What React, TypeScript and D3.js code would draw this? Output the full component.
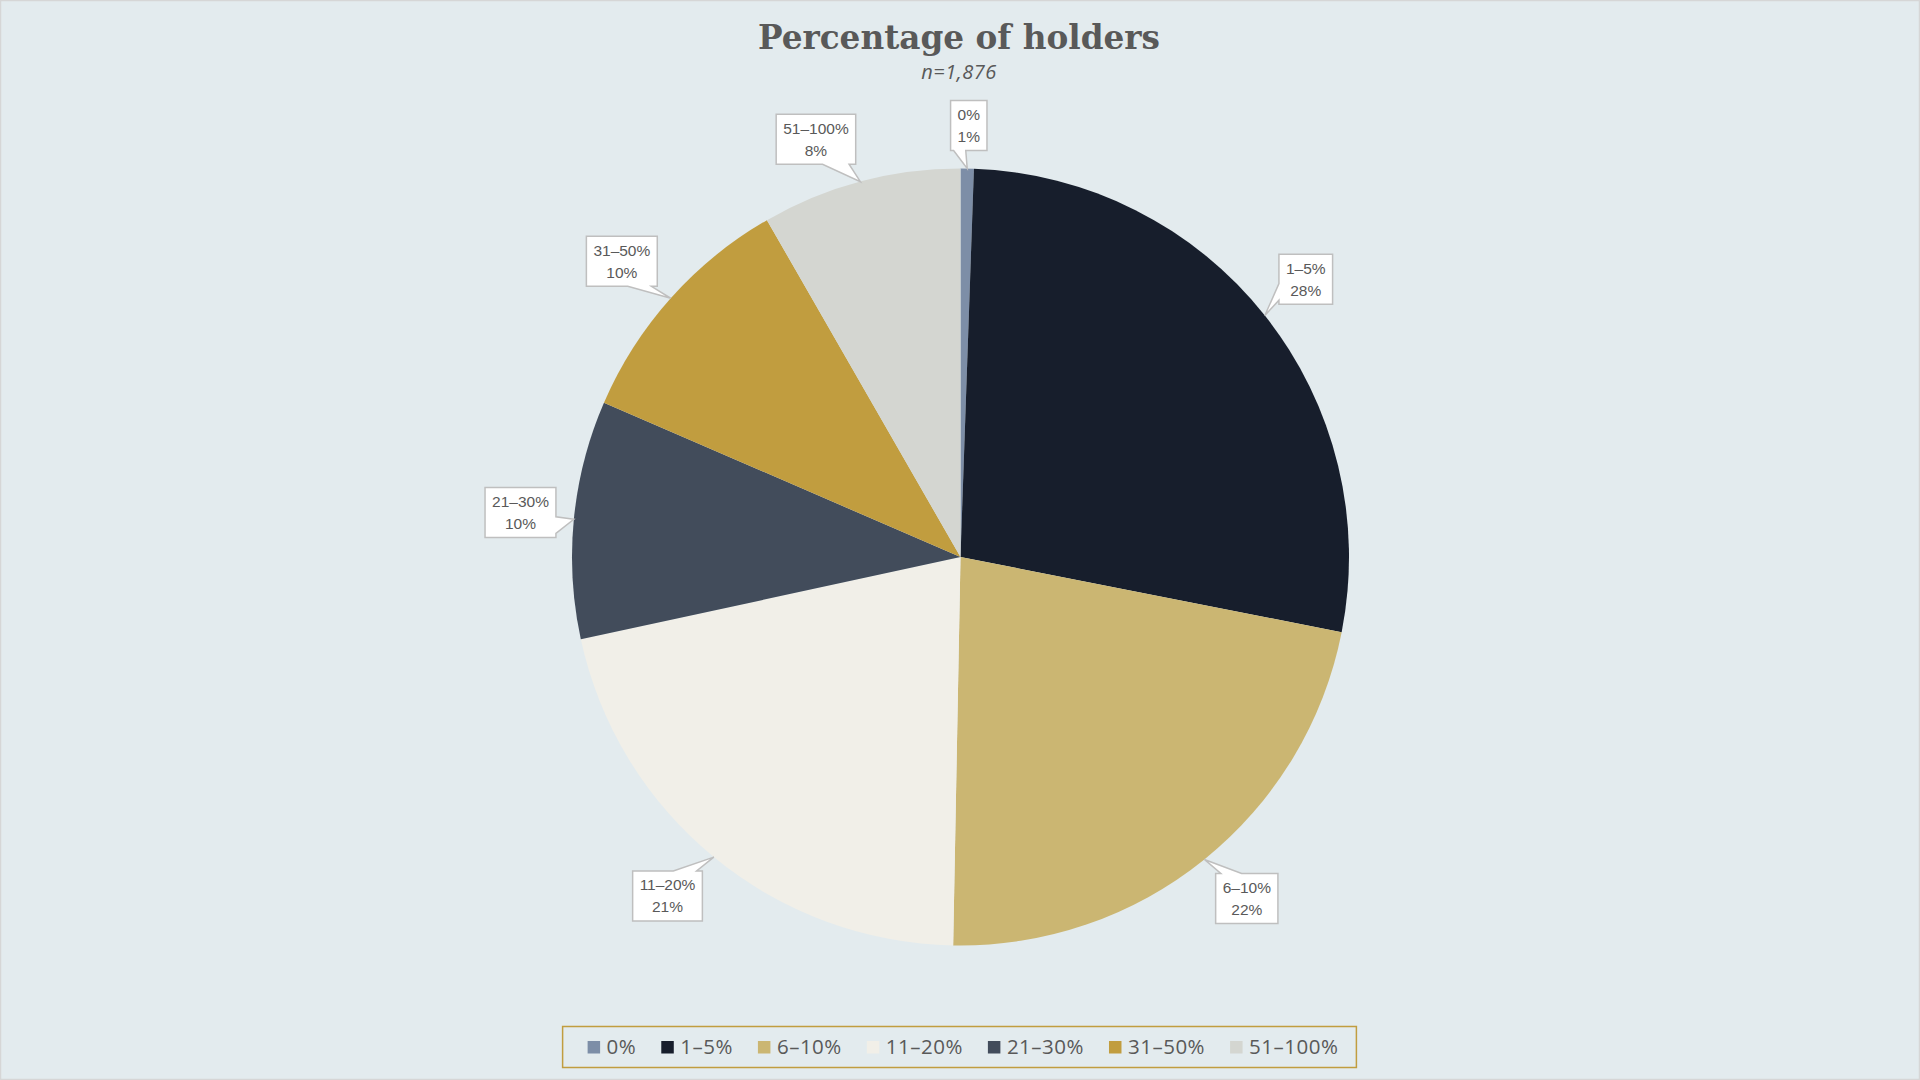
import { useEffect, useRef } from 'react';
import * as d3 from 'd3';

interface Slice {
  name: string;
  value: number;
  color: string;
}

// Kategori dan nilai (perkiraan dari gambar)
const categories = ['0%', '1–5%', '6–10%', '11–20%', '21–30%', '31–50%', '51–100%'];
const shares = [0.55, 27.55, 22.2, 21.3, 9.9, 10.2, 8.3];
const colors = ['#7d8ea7', '#171e2c', '#cbb672', '#f1efe8', '#424c5b', '#c19d3f', '#d4d6d1'];

const title = 'Percentage of holders';
const subtitle = 'n=1,876';

const width = 1920;
const height = 1080;

export default function App() {
  const svgRef = useRef<SVGSVGElement>(null);

  useEffect(() => {
    if (!svgRef.current) return;
    const svg = d3.select(svgRef.current);
    svg.selectAll('*').remove();

    const textColor = '#595959';
    const data: Slice[] = categories.map((name, i) => ({ name, value: shares[i], color: colors[i] }));
    const total = d3.sum(data, d => d.value);
    const pct = d3.format('.0%');

    // Latar belakang
    svg.append('rect')
      .attr('x', 0.5).attr('y', 0.5)
      .attr('width', width - 1).attr('height', height - 1)
      .attr('fill', '#e3ebee')
      .attr('stroke', '#d6d6d6')
      .attr('stroke-width', 1.5);

    // Judul
    svg.append('text')
      .attr('x', 959).attr('y', 48.5)
      .attr('text-anchor', 'middle')
      .attr('fill', textColor)
      .style('font-family', '"DejaVu Serif", serif')
      .style('font-weight', 'bold')
      .style('font-size', '32.7px')
      .text(title);

    svg.append('text')
      .attr('x', 959).attr('y', 78.5)
      .attr('text-anchor', 'middle')
      .attr('fill', textColor)
      .style('font-family', '"Open Sans", sans-serif')
      .style('font-style', 'italic')
      .style('font-size', '20px')
      .style('letter-spacing', '0.5px')
      .text(subtitle);

    // Pie
    const cx = 960.5;
    const cy = 557;
    const radius = 388.5;

    const pie = d3.pie<Slice>().value(d => d.value).sort(null);
    const arc = d3.arc<d3.PieArcDatum<Slice>>().innerRadius(0).outerRadius(radius);
    const arcs = pie(data);

    const g = svg.append('g').attr('transform', `translate(${cx}, ${cy})`);
    g.selectAll('path.slice')
      .data(arcs)
      .enter()
      .append('path')
      .attr('class', 'slice')
      .attr('d', d => arc(d) as string)
      .attr('fill', d => d.data.color);

    // Label callout
    const labels = g.selectAll('g.callout')
      .data(arcs)
      .enter()
      .append('g')
      .attr('class', 'callout');

    const anchorR = radius + 18;
    const clamp = (v: number) => Math.max(-1, Math.min(1, v));

    labels.each(function (d) {
      const lg = d3.select(this);
      const mid = (d.startAngle + d.endAngle) / 2;
      const ux = Math.sin(mid);
      const uy = -Math.cos(mid);
      const tip = [radius * ux, radius * uy];

      const path = lg.append('path')
        .attr('fill', '#ffffff')
        .attr('stroke', '#bfbfbf')
        .attr('stroke-width', 1.5);

      const lines = [d.data.name, pct(d.data.value / total)];
      const texts = lines.map(t => lg.append('text')
        .attr('text-anchor', 'middle')
        .attr('dy', '0.35em')
        .attr('fill', textColor)
        .style('font-family', '"Liberation Sans", Arial, sans-serif')
        .style('font-size', '15.5px')
        .text(t));
      const tw = d3.max(texts, t => (t.node() as SVGTextElement).getComputedTextLength()) || 0;

      const w = tw + 14;
      const h = 50;
      const hw = w / 2;
      const hh = h / 2;
      // titik jangkar di luar busur, kotak bergeser ke arah sudut
      const ax = anchorR * ux;
      const ay = anchorR * uy;
      const bx = ax + hw * clamp(ux / 0.25);
      const by = ay + hh * clamp(uy / 0.5);

      texts[0].attr('x', bx).attr('y', by - 11);
      texts[1].attr('x', bx).attr('y', by + 11);

      const x0 = bx - hw, x1 = bx + hw, y0 = by - hh, y1 = by + hh;
      const dxPos = tip[0] - bx;
      const dyPos = tip[1] - by;
      const dxN = dxPos * h / w;
      const p = d3.path();
      if (Math.abs(dyPos) > Math.abs(dxN)) {
        const b1 = dxPos < 0 ? x0 + w / 12 : x0 + 7 * w / 12;
        const b2 = dxPos < 0 ? x0 + 5 * w / 12 : x0 + 11 * w / 12;
        if (dyPos < 0) {
          p.moveTo(x0, y0); p.lineTo(b1, y0); p.lineTo(tip[0], tip[1]); p.lineTo(b2, y0);
          p.lineTo(x1, y0); p.lineTo(x1, y1); p.lineTo(x0, y1);
        } else {
          p.moveTo(x0, y0); p.lineTo(x1, y0); p.lineTo(x1, y1); p.lineTo(b2, y1);
          p.lineTo(tip[0], tip[1]); p.lineTo(b1, y1); p.lineTo(x0, y1);
        }
      } else {
        const b1 = dyPos < 0 ? y0 + h / 12 : y0 + 7 * h / 12;
        const b2 = dyPos < 0 ? y0 + 5 * h / 12 : y0 + 11 * h / 12;
        if (dxPos < 0) {
          p.moveTo(x0, y0); p.lineTo(x1, y0); p.lineTo(x1, y1); p.lineTo(x0, y1);
          p.lineTo(x0, b2); p.lineTo(tip[0], tip[1]); p.lineTo(x0, b1);
        } else {
          p.moveTo(x0, y0); p.lineTo(x1, y0); p.lineTo(x1, b1); p.lineTo(tip[0], tip[1]);
          p.lineTo(x1, b2); p.lineTo(x1, y1); p.lineTo(x0, y1);
        }
      }
      p.closePath();
      path.attr('d', p.toString());
    });

    // Legenda
    const legend = svg.append('g');
    const swatch = 12.5;
    const gap = 25;
    const items = legend.selectAll('g.item')
      .data(data)
      .enter()
      .append('g')
      .attr('class', 'item');

    items.append('rect')
      .attr('y', -12.5)
      .attr('width', swatch)
      .attr('height', swatch)
      .attr('fill', d => d.color);

    items.append('text')
      .attr('x', swatch + 6.5)
      .attr('fill', textColor)
      .style('font-family', '"Open Sans", sans-serif')
      .style('font-size', '20.5px')
      .style('letter-spacing', '0.5px')
      .text(d => d.name);

    const offsets: number[] = [];
    let xPos = 0;
    items.each(function () {
      const item = d3.select(this);
      const tw = (item.select('text').node() as SVGTextElement).getComputedTextLength();
      offsets.push(xPos);
      xPos += swatch + 6.5 + tw + gap;
    });
    const contentW = xPos - gap;
    const padL = 25;
    const padR = 18;
    const boxW = contentW + padL + padR;
    const boxX = 959.5 - boxW / 2;

    legend.insert('rect', ':first-child')
      .attr('x', boxX)
      .attr('y', 1026.5)
      .attr('width', boxW)
      .attr('height', 41)
      .attr('fill', 'none')
      .attr('stroke', '#c19d3f')
      .attr('stroke-width', 1.5);

    items.attr('transform', (_d, i) => `translate(${boxX + padL + offsets[i]}, 1053.5)`);
  }, []);

  return (
    <svg
      ref={svgRef}
      width={width}
      height={height}
      style={{ position: 'absolute', left: 0, top: 0, display: 'block' }}
    />
  );
}
